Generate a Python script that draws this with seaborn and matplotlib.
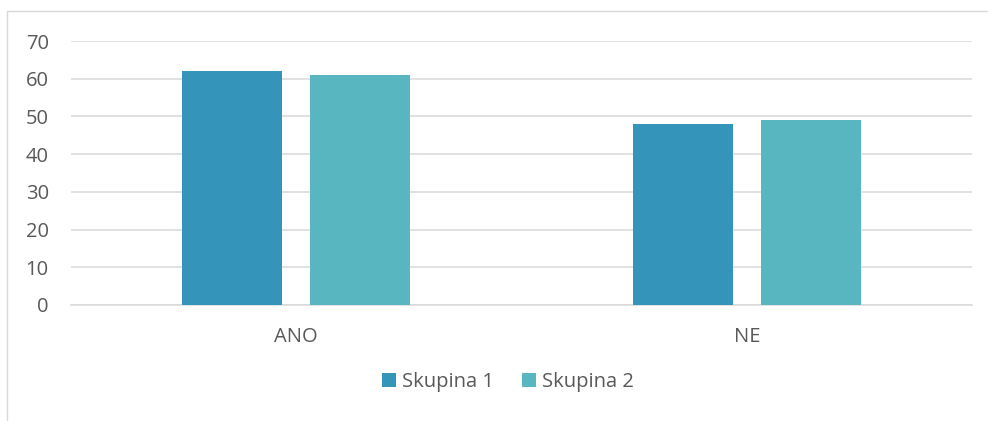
import matplotlib
matplotlib.use("Agg")
import matplotlib.pyplot as plt
from matplotlib.patches import Rectangle
import seaborn as sns
import pandas as pd

categories = ["ANO", "NE"]
series_names = ["Skupina 1", "Skupina 2"]
skupina1 = [62, 48]
skupina2 = [61, 49]
yticks = [0, 10, 20, 30, 40, 50, 60, 70]

df = pd.DataFrame({
    "cat": categories * 2,
    "series": [series_names[0]] * len(categories) + [series_names[1]] * len(categories),
    "value": skupina1 + skupina2,
})

sns.set_theme(style="white")
plt.rcParams["font.family"] = ["Open Sans", "DejaVu Sans"]

txt = "#595959"
grid = "#d9d9d9"
fs = 14.5

fig = plt.figure(figsize=(9.88, 4.21), dpi=100)
ax = fig.add_axes([71 / 988, (421 - 305) / 421, (972 - 71) / 988, (305 - 41) / 421])

sns.barplot(data=df, x="cat", y="value", hue="series", order=categories,
            hue_order=series_names, palette=["#3494BA", "#58B6C0"],
            width=0.568, gap=0.219, saturation=1, ax=ax, legend=True,
            edgecolor="none", zorder=3)

ax.set_ylim(0, 70)
ax.set_xlim(-0.5, 1.5)
ax.set_yticks(yticks)
ax.set_yticklabels([str(v) for v in yticks])
ax.yaxis.grid(True, color=grid, linewidth=1.1, zorder=0)
ax.set_axisbelow(True)
for s in ["top", "right", "left"]:
    ax.spines[s].set_visible(False)
ax.spines["bottom"].set_color(grid)
ax.spines["bottom"].set_linewidth(1.1)
ax.spines["bottom"].set_zorder(1)
ax.tick_params(axis="both", length=0, labelsize=fs, labelcolor=txt)
ax.tick_params(axis="y", pad=16)
ax.tick_params(axis="x", pad=16)
ax.set_xlabel("")
ax.set_ylabel("")

handles, labels = ax.get_legend_handles_labels()
ax.get_legend().remove()
fig.legend(handles, labels, loc="center", bbox_to_anchor=(508 / 988, (421 - 382) / 421),
           ncol=2, frameon=False, fontsize=fs, labelcolor=txt,
           handlelength=0.7, handleheight=0.7, handletextpad=0.3, columnspacing=1.4)

fig.add_artist(Rectangle((7 / 988, -0.05), 1.1, (421 - 11) / 421 + 0.05,
                         transform=fig.transFigure, fill=False,
                         edgecolor=grid, linewidth=1.0))

fig.savefig("out.png", dpi=100, facecolor="white")
